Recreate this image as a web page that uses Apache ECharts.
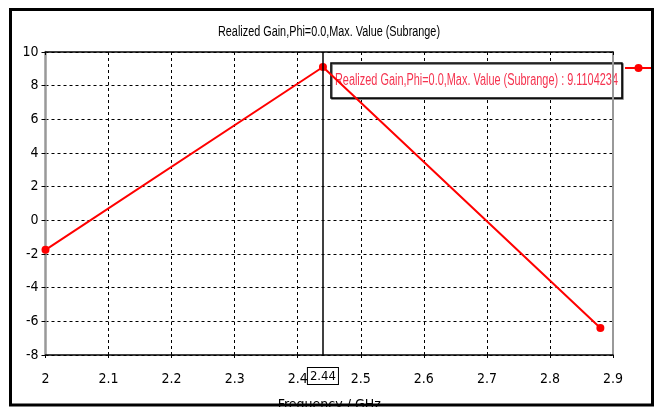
<!DOCTYPE html>
<html>
<head>
<meta charset="utf-8">
<script src="https://cdn.jsdelivr.net/npm/echarts@6/dist/echarts.min.js"></script>
<style>
  html, body { margin: 0; padding: 0; background: #fff; }
  #chart { width: 656px; height: 407px; }
</style>
</head>
<body>
<div id="chart"></div>
<script>
// Realized gain sweep over frequency (GHz)
const frequencies = [2, 2.44, 2.88];
const gainValues = [-1.75, 9.1104234, -6.4];
const cursorFreq = 2.44;
const peakGain = 9.1104234;
const xTicks = [2, 2.1, 2.2, 2.3, 2.4, 2.5, 2.6, 2.7, 2.8, 2.9];
const yTicks = [-8, -6, -4, -2, 0, 2, 4, 6, 8, 10];
const seriesName = 'Realized Gain,Phi=0.0,Max. Value (Subrange)';

const AXIS_FONT = '"DejaVu Sans Condensed", "Liberation Sans Narrow", sans-serif';
const TEXT_FONT = 'Liberation Sans';
const RED = '#ff0000';

// width of a string in a given font, used to squeeze captions horizontally
function textWidth(text, size, family) {
  const ctx = document.createElement('canvas').getContext('2d');
  ctx.font = size + 'px "' + family + '"';
  return ctx.measureText(text).width;
}

const chart = echarts.init(document.getElementById('chart'));

const option = {
  animation: false,
  backgroundColor: '#fff',
  textStyle: { fontFamily: AXIS_FONT },
  legend: {
    left: 624, top: 63,
    padding: 0,
    itemWidth: 27, itemHeight: 10,
    itemGap: 0,
    formatter: () => '',
    data: [seriesName],
    selectedMode: false
  },
  grid: {
    left: 45.5, right: 43, top: 52, bottom: 52,
    containLabel: false,
    outerBoundsMode: 'none'
  },
  xAxis: [{
    type: 'value',
    min: xTicks[0], max: xTicks[xTicks.length - 1], interval: 0.1,
    name: 'Frequency / GHz',
    nameLocation: 'middle', nameGap: 43,
    nameTextStyle: { fontFamily: AXIS_FONT, fontSize: 14, color: '#000' },
    axisLine: { show: true, onZero: false, lineStyle: { color: '#000', width: 1.5 } },
    axisTick: { show: true, length: 3, lineStyle: { color: '#000' } },
    axisLabel: {
      fontFamily: AXIS_FONT, fontSize: 14, color: '#000', margin: 17,
      formatter: v => String(+v.toFixed(1))
    },
    splitLine: { show: true, lineStyle: { color: '#000', width: 1, type: [3, 3] } }
  }, {
    type: 'value', position: 'top',
    min: xTicks[0], max: xTicks[xTicks.length - 1], interval: 0.1,
    axisLine: { show: true, onZero: false, lineStyle: { color: '#000', width: 1.5 } },
    axisTick: { show: true, inside: true, length: 3, lineStyle: { color: '#000' } },
    axisLabel: { show: false },
    splitLine: { show: false }
  }],
  yAxis: [{
    type: 'value',
    min: yTicks[0], max: yTicks[yTicks.length - 1], interval: 2,
    axisLine: { show: true, onZero: false, lineStyle: { color: '#999', width: 2.5 } },
    axisTick: { show: true, length: 4, lineStyle: { color: '#000' } },
    axisLabel: { fontFamily: AXIS_FONT, fontSize: 14, color: '#000', margin: 7 },
    splitLine: { show: true, lineStyle: { color: '#000', width: 1, type: [3, 3] } }
  }, {
    type: 'value', position: 'right',
    min: yTicks[0], max: yTicks[yTicks.length - 1], interval: 2,
    axisLine: { show: true, onZero: false, lineStyle: { color: '#999', width: 2 } },
    axisTick: { show: false },
    axisLabel: { show: false },
    splitLine: { show: false }
  }],
  series: [{
    name: seriesName,
    type: 'line',
    data: frequencies.map((f, i) => [f, gainValues[i]]),
    symbol: 'circle', symbolSize: 8,
    itemStyle: { color: RED },
    lineStyle: { color: RED, width: 2 },
    z: 3,
    markLine: {
      silent: true,
      symbol: 'none',
      lineStyle: { color: '#000', width: 1.5, type: 'solid' },
      label: {
        show: true, position: 'start', distance: 13,
        formatter: () => String(cursorFreq),
        fontFamily: AXIS_FONT, fontSize: 13, color: '#000',
        backgroundColor: '#fff', borderColor: '#000', borderWidth: 1,
        padding: [2, 2, 1, 2]
      },
      data: [{ xAxis: cursorFreq }]
    }
  }]
};

chart.setOption(option);

// Title, peak read-out box and outer frame
const titleSize = 14;
const titleScale = 222 / textWidth(seriesName, titleSize, TEXT_FONT);

const readout = seriesName + ' : ' + peakGain.toFixed(7);
const readoutSize = 16;
const readoutScale = 283 / textWidth(readout, readoutSize, TEXT_FONT);

const [px, py] = chart.convertToPixel({ xAxisIndex: 0, yAxisIndex: 0 }, [cursorFreq, peakGain]);

chart.setOption({
  graphic: [{
    id: 'title',
    type: 'text',
    x: 329, y: 32,
    scaleX: titleScale,
    style: {
      text: seriesName, fontSize: titleSize, fontFamily: TEXT_FONT, fill: '#000',
      align: 'center', verticalAlign: 'middle'
    }
  }, {
    id: 'readout',
    type: 'group',
    x: px + 8, y: py - 4,
    z: 50,
    children: [{
      type: 'rect',
      shape: { x: 0, y: 0, width: 291, height: 35 },
      style: {
        fill: '#fff', stroke: '#000', lineWidth: 1.5,
        shadowColor: 'rgba(0,0,0,0.6)', shadowOffsetX: 1, shadowOffsetY: 1, shadowBlur: 0
      }
    }, {
      type: 'text',
      x: 4, y: 18,
      scaleX: readoutScale,
      style: {
        text: readout, fontSize: readoutSize, fontFamily: TEXT_FONT, fill: '#f5334f',
        align: 'left', verticalAlign: 'middle'
      }
    }]
  }, {
    id: 'frame',
    type: 'rect',
    z: 100,
    shape: { x: 10.5, y: 9.5, width: 642, height: 395.5 },
    style: { fill: 'none', stroke: '#000', lineWidth: 3 }
  }]
});
</script>
</body>
</html>
